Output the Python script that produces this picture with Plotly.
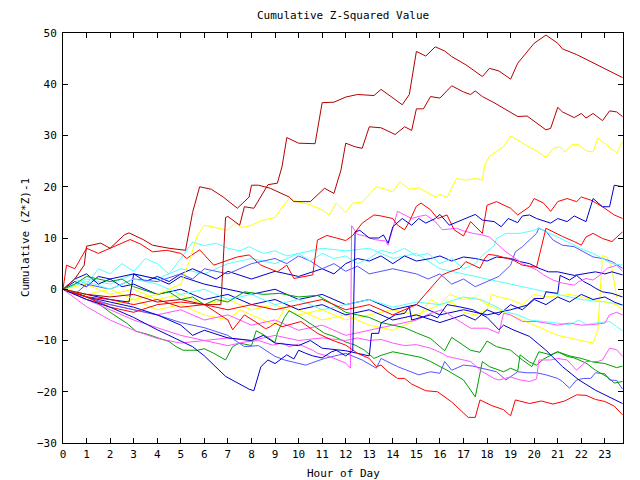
import plotly.graph_objects as go

# ---- data: (hour, cumulative value) ----
h_a = [0,1,2,3,4,5,6,6.7,6.9,7.0,7.5,7.7,8.1,8.7,9.1,9.3,9.5,10,10.7,11,11.5,12,12.5,13.2,13.5,14.4,14.7,15,15.4,15.8,16.2,16.5,17.1,17.8,18.1,18.5,19,19.3,20,20.5,21,21.2,21.8,22.4,23,23.75]
v_a = [0,-1,-1.5,-1,-2.5,-2,-3,-3,14,14.2,12.5,16.1,15.8,20.4,20.7,24,29.6,28.5,28.4,36.4,36.5,37.5,38,37.8,39,36,38,46.4,45.5,47.3,46.5,45.4,43.8,41.5,43.1,42.6,41,44.1,48,49.6,48,46.9,45.8,44.4,43.1,41.3]

h_b = [0,0.5,0.9,1.0,1.6,2,2.6,2.8,3.4,3.8,4.5,5.2,5.5,5.8,6.3,6.8,7.4,7.9,8.0,8.3,8.8,9.6,9.8,10.5,11.1,11.5,11.8,12,12.4,12.7,13,13.5,14.1,14.5,14.8,15,15.3,15.6,16.0,16.5,17,17.3,17.5,17.8,18.3,18.8,19.3,19.7,20.2,20.5,20.7,21,21.2,21.7,22,22.2,22.5,22.9,23.2,23.5,23.75]
v_b = [0,2,4.7,8.4,9,8,10.6,11,9.7,8.6,8,7.6,15,20,19.5,18,15.8,18,20.3,20.3,19.7,18,17.1,17.1,19.7,18.7,23.3,28.5,27.8,27.5,31.7,31.5,30.2,31.7,31,35.2,35.2,37.6,37.3,39.7,38.5,38,38.7,37.6,36.4,35,33.7,33.8,32,31.1,31.4,35.5,34.6,33.5,34.3,33.4,34.3,32.9,34.8,34.6,33.7]

h_c = [0,1,2,3,4,5,5.4,5.7,6,6.5,7,7.3,7.6,8,8.5,9,9.3,9.6,10,10.5,11,11.3,11.6,12,12.3,12.7,13,13.3,13.7,14,14.3,14.7,15.1,15.4,15.8,16,16.3,16.7,17.1,17.5,17.8,17.9,18.1,18.7,19,19.7,20.1,20.5,20.8,21.1,21.3,21.6,21.9,22.2,22.5,22.7,23.1,23.5,23.75]
v_c = [0,-1,0,-2,-1,1,6,10.5,12.5,12,11.5,13,12,12.5,13.5,14,16,17.7,17,16.5,15.5,14.5,16.8,15,16.8,17,18.5,20,19.5,19,21,19.5,19.8,19,18,18.5,17.9,21.6,21.3,21.6,21.3,24.2,26,27.8,29.9,28,27,25.7,27.5,27.8,26.8,28.2,28.2,27,26.8,29.5,28,26.6,28.8]

h_f = [0,0.5,1,2,3,4,5,5.5,6,6.9,7.9,8.1,8.4,8.7,9,9.5,9.8,10,10.3,10.6,11,11.4,11.6,12,12.3,12.4,12.6,13,13.4,13.6,13.8,14,14.4,14.8,15.1,15.4,15.8,16,16.4,16.9,17.5,17.8,18.3,18.6,18.9,19.3,19.5,19.8,20.1,20.7,21,21.4,21.7,22.2,22.5,22.9,23.2,23.4,23.75]
v_f = [0,-1,-2,-3.5,-5.5,-7.9,-10.2,-11.2,-13,-17,-19.5,-19.8,-15.1,-13.8,-14.5,-12.8,-13.6,-11.9,-12.5,-13,-13.4,-12.2,-11.9,-13,-12,11.2,11.5,10,10,10.6,9,12.2,13.8,12.5,13.8,12.9,13.8,14.6,12.5,13.5,14.6,13.5,13.2,12.2,13.8,13,14.3,14.5,13.8,12.9,13.8,13.2,14.3,13.2,17.7,16.1,16.1,20.3,20]

h_d = [0,0.15,0.5,1,1.5,2,2.85,3.3,3.8,4.4,5,5.25,5.8,6.4,6.8,7.4,7.9,8.4,9.1,9.5,9.8,10.3,10.6,10.8,11.2,11.6,12,12.3,12.7,13.2,13.5,14,14.2,14.5,14.7,15,15.2,15.6,15.9,16.3,16.6,17,17.3,17.8,18.0,18.4,19,19.3,19.8,20,20.4,20.7,21,21.4,21.8,22,22.4,22.9,23.4,23.75]
v_d = [0,4.7,4,8,7,8,9.7,8.8,7.3,7.6,7,6,7.7,4.7,5.4,6.3,6.7,4.7,3.4,4.7,2.1,2.5,2.8,9.6,10.5,10,9.5,10.5,12.9,14.5,14.3,13.8,12.5,11.6,13.2,16.2,16.8,15.5,13.8,14.5,11.6,10.4,13.2,10.9,16.4,17.1,15.8,14.5,16.1,17.7,16.8,15.2,17.1,17.7,17.1,18,17.4,16.1,14.5,13.8]

h_e = [0,1,2,3,4,5,6,7,8,9,10,11,12,13,14,15,15.6,16.1,16.4,16.85,17.1,17.4,17.7,17.9,18.05,18.4,19.1,19.5,20.1,20.5,20.8,21.2,21.7,22,22.2,22.5,22.9,23.3,23.75]
v_e = [0,-1.5,-2,-3,-2,-3.5,-3,-4,-3,-4,-3,-2,-4,-3,-5,-3,0.2,2.8,3.4,4.1,5.4,4.7,4.1,6,6.8,6.6,5.7,4.7,4.3,11.9,11.2,10.3,9.3,8.6,10.2,10.9,9.9,9.3,11.2]

h_g = [0,1,2,3,4,5,6,7,7.2,7.7,8.15,8.6,8.8,9,9.3,10.1,10.8,11.4,12,12.5,13,13.3,13.5,13.8,14.2,14.5,14.8,15.1,15.4,15.9,16.5,17.2,17.5,17.7,18.2,18.7,19,19.2,19.8,20.3,20.8,21.3,21.8,22.2,22.6,23,23.4,23.75]
v_g = [0,-1.5,-3.5,-4.5,-3,-2.5,-3,-6,-7.9,-5,-6.3,-7.7,-7.3,-6.6,-7.3,-6.3,-8.6,-9.9,-10.9,-12.5,-13.5,-15.1,-14.8,-16.1,-17.4,-17.4,-18.5,-19.2,-19.8,-20,-22,-25,-25,-21.6,-22.7,-23.5,-24.7,-21.6,-22.3,-21.8,-22.4,-21.8,-20.6,-20.7,-21.5,-21.9,-22.8,-24.5]

h_h = [0,1,2,3,4,5,5.5,6,7,8,8.5,9,10,10.5,11,12,12.5,13,13.1,13.4,13.5,14.1,14.5,14.7,14.8,15.2,15.6,15.9,16.3,16.8,17.4,18,18.5,18.7,19.1,19.8,20.5,21.2,21.9,22.6,23.2,23.75]
v_h = [0,-1.5,-2.5,-3.5,-5,-7,-9,-8,-9.5,-10,-9,-10.5,-11,-10,-11.5,-12,-12.5,-13,-8.6,-8.6,-6.6,-5,-4.7,-3.4,-6,-5.5,-5,-5.6,-3,-3.4,-4,-5.5,-7.9,-7,-7.9,-9.2,-11.9,-15.1,-17.7,-19.7,-21,-22.3]

h_m5 = [0,1,2,3,4,5,6,7,7.7,8.3,8.9,9.3,9.6,10,10.6,10.8,11.3,11.7,12,12.2,12.25,12.5,12.8,13.2,13.7,13.8,13.95,14.1,14.2,14.5,14.8,15.1,15.4,15.8,16.1,16.7,17,17.4,17.8,18.1,18.5,18.8,19.3,19.5,19.8,20.1,20.4,20.8,21.2,21.7,21.9,22.2,22.5,22.8,23.1,23.5,23.75]
v_m5 = [0,-3.4,-6,-8,-9.6,-10.5,-10,-11,-10.3,-10,-10.9,-10.5,-11.2,-10.7,-11.9,-12.5,-13.1,-13.8,-14.4,-15.4,12.4,10.7,10.4,9.7,9.4,8.6,11.2,13.8,15.2,14.5,13.8,14.2,14.5,13.2,11.6,11.9,11.4,10.9,10.6,10.2,8.6,7.3,5.7,5,4.4,3.8,2.8,1.8,1.2,0.8,1.5,2.1,1.8,2.8,4.1,4.7,3.5]

h_m1 = [0,1,2,3,4,5,6,7,8,9,10,11,12,12.5,13,13.5,14,14.5,15,15.6,16.1,16.3,16.7,17.3,17.8,18.3,18.5,19,19.4,19.8,20.1,20.2,20.7,21,21.4,21.8,22.2,22.7,22.9,23.2,23.5,23.75]
v_m1 = [0,-2,-4,-6,-7.5,-9,-10,-9.5,-10,-9,-10,-9.5,-10,-9.5,-10,-9.8,-10.5,-11,-10.8,-11.5,-12.5,-13.1,-13.5,-14.1,-16.1,-17.4,-17.7,-17.1,-17.7,-18,-17.5,-13.8,-13.8,-13.5,-13.8,-15.8,-14.1,-14.1,-13.8,-11.5,-11.8,-13.1]

h_g2 = [0,0.5,1,1.3,2,2.7,3.1,3.6,4.1,4.5,4.8,5.1,5.7,6,6.4,6.9,7.2,7.5,8,8.2,8.6,9,9.1,9.4,9.6,10.1,10.6,11.1,11.5,12,12.4,12.8,13.2,13.5,14,14.4,14.8,15.2,15.6,16.3,17,17.5,17.8,18.1,18.7,19,19.3,19.4,19.8,20.1,20.4,21,21.5,22,22.5,23,23.5,23.75]
v_g2 = [0,-0.5,-1.5,-2.1,-4.5,-6.6,-8.2,-8.8,-9.6,-10.2,-11.2,-11.9,-11.9,-11.6,-12.5,-13.8,-11.2,-10.5,-11,-8.1,-9.1,-10.4,-8.5,-5.5,-4.2,-5.5,-7,-8.6,-9.2,-10.3,-10.9,-11.9,-13.5,-12.9,-12.2,-12.6,-12.9,-13.3,-14.1,-15.8,-17.7,-21,-14.1,-15.1,-16.1,-15.4,-16,-12.8,-14.2,-14.8,-13.6,-12.2,-13,-13.5,-14.2,-14.5,-15.3,-15]

h_g1 = [0,0.5,1,1.5,2,2.5,3,4,4.5,5,5.5,6,6.5,7,7.7,8.5,9.2,10,10.8,11.3,12,12.5,13,13.5,14,14.5,15,15.6,16.2,16.5,17.3,17.7,18,18.4,19,19.5,19.9,20.2,20.7,21,21.4,21.7,22.2,22.6,23.1,23.4,23.75]
v_g1 = [0,1,2.5,2,1.5,2,0.5,-1,-0.5,-2,-1.5,-3,-2,-2.5,-0.5,-1,-0.8,-1.5,-1.2,-2.5,-4.5,-5,-5.5,-6.5,-7,-7.5,-8.5,-9.6,-12,-9.4,-11.9,-12.3,-10.1,-11.2,-11.9,-13.8,-15.1,-12.2,-12.8,-12.2,-13.1,-13.4,-14.4,-15.8,-17.1,-18.3,-18]

h_lb2 = [0,1,2,3,4,5,6,7,7.7,8.3,9,9.4,10.3,11.1,11.7,12,12.7,13.3,13.5,14.2,15.1,15.6,16,16.2,16.5,17,17.4,17.8,18.4,18.8,19.3,19.7,20.1,20.5,21,21.2,21.5,21.8,22.1,22.4,22.6,23,23.2,23.5,23.75]
v_lb2 = [0,-1.5,-3,-4,-5,-6.5,-7.5,-9,-11.2,-11,-13.1,-13.8,-14.8,-13.5,-12.8,-12.5,-13.8,-15.4,-13.5,-15.1,-16.7,-16.1,-16.4,-14.1,-15.8,-14.8,-15,-15.4,-16.1,-17.7,-16.1,-16.3,-16.3,-16.7,-17.4,-18,-19.3,-17.7,-17.4,-17.4,-16.3,-16.5,-17.7,-17.8,-19.5]

h_c2 = [0,1,2,3,4,5,6,7,8,9,10,11,12,13,14,15,16,17,17.8,18.4,18.8,19.3,19.8,20.4,21,21.5,21.9,22.2,22.6,23.2,23.5,23.75]
v_c2 = [0,1.5,0,2,1,-1,0,-2,-1,-3,-2,-4,-3,-2,-3.5,-2.5,-3,-1.5,-2.1,-3.4,-4.4,-5,-6,-6.3,-6.6,-6.9,-6,-6.9,-6.6,-6.3,-7.3,-8.1]

h_c1 = [0,0.5,1,1.5,2,2.5,3,3.5,4,4.5,5,5.5,6,6.5,7,7.5,7.9,8.5,9,9.5,10,10.5,11,11.5,12,12.5,13,13.5,14,14.5,15,15.5,16,16.5,17,17.5,17.8,18.3,18.4,18.8,19.4,20,20.2,20.5,21,21.5,22.1,22.5,22.9,23.3,23.75]
v_c1 = [0,2,1,4,3,5,3.5,6,5,3,6,9.2,8.5,9,8,7.5,8.3,7,7.5,6.5,7,5.5,7,6,6.5,5,6,7.6,7,8,6.5,7,5,6,4,5,6.6,8.5,9.9,10.9,10.9,11.5,12,11.2,10.2,9,7.7,7,6,5,4.7]

h_lb1 = [0,0.5,1,2,3,4,5,5.5,6,7,8,9,9.5,10,10.5,11,11.5,12,12.5,13,14,15,15.5,16,16.5,17,17.5,18,18.5,19,19.2,19.5,19.8,20.1,20.2,20.5,20.8,21.2,21.7,22.1,22.5,22.9,23.3,23.75]
v_lb1 = [0,-1,1,0,2,1.5,3,2,4,3,5,6,5,6.5,5.5,4,5,3.5,4.5,3,4,3,2,3,1,2,0.5,1.5,2.5,4.7,7.3,8.3,9.6,10.9,11.9,11.3,9.6,8.6,8.3,7.3,6.3,6,5.4,4.1]

h_b2 = [0,0.5,1,1.5,2,3,3.5,4,4.5,5,5.5,6,6.5,7,8,9,10,11,11.5,12,12.5,13,13.5,14,14.5,15,15.6,16,16.5,17,17.5,18,18.4,19,19.4,19.8,20.2,20.6,21,21.7,22.1,22.6,23,23.3,23.75]
v_b2 = [0,1.5,0.5,2.5,2,3,1.5,2.5,1.5,3,4,3,2,3.5,2,3.5,2.5,4,3,5,6,5.5,6.5,5,6.5,5.5,6,6.5,5.5,6.3,6,5.5,6.3,6,5.4,5,4.1,3.4,3.4,2.7,3,3.4,3,3.4,2.8]

h_b4 = [0,1,2,2.8,3,4,4.5,5,6,7,8,9,10,11,12,13,14,15,16,17,18,19,19.7,20,20.4,20.5,21,21.1,21.5,21.8,22.1,22.4,22.6,22.9,23.3,23.75]
v_b4 = [0,-1,-2,-2.5,3,2,1,2.5,1,0,-1,0,-2,-1,-3,-2,-4,-3,-5,-4,-5,-4,-3.1,-1.8,-1.8,-0.5,-0.8,2.7,1.8,2.7,1.5,0.8,0.2,-0.5,-0.8,-1.5]

h_b3 = [0,0.5,1,1.5,2,2.5,3,4,5,6,7,8,9,10,11,12,13,14,15,16,17,17.5,18,18.5,19,19.5,20,20.5,21,21.5,22,22.5,23,23.4,23.75]
v_b3 = [0,2,3,1,2,0.5,1,-1,0,-2,-1,-3,-2,-4,-3,-5,-4,-6,-5,-6.5,-5,-6,-4,-5,-3,-4,-2,-3,-1.5,-2.5,-1,-2,-1.5,-2.5,-3.1]

h_y2 = [0,0.5,1,2,3,4,5,6,7,7.5,8,9,9.5,10,11,12,13,14,15,15.6,16,16.5,17,17.5,18,18.2,18.5,19,19.5,20,20.5,21,21.5,22,22.5,23,23.5,23.75]
v_y2 = [0,-1,-2,-3,-2,-4,-3,-5,-6,-4,-5,-7,-3,-4,-6,-5,-7,-8,-6,-2,-3,-2.5,-4.5,-5,-4,-1,-1.5,-2,-3,-1,-1.5,-1.3,-1,-1.5,-2,-2.5,-3,-4]

h_y3 = [0,1,2,3,4,5,6,7,8,9,10,11,12,13,14,15,16,16.4,17,17.5,18,18.5,19,19.5,20,20.5,21,21.5,22,22.5,22.7,22.9,23.1,23.3,23.5,23.75]
v_y3 = [0,1,-1,0,-2,-1,-3,-2,-4,-3,-5,-4,-6,-5,-4,-5,-3,-1,-2,-1.5,-3,-4,-5,-6,-7,-8,-9,-9.5,-10,-10.5,-8,6.6,6.2,4,-1.5,-0.5]

h_m2 = [0,1,2,3,4,5,6,7,8,9,10,11,12,13,14,15,15.6,16.1,16.4,17.3,18,18.5,18.7,19,19.5,20.1,20.5,21,21.5,22,22.5,23,23.2,23.5,23.75]
v_m2 = [0,-2,-3,-4,-5,-4,-6,-5,-7,-6,-8,-7,-9,-8,-7,-6,-4.7,-4,-5,-7.6,-7.6,-8.6,-4.7,-5,-6.3,-6.3,-6.6,-7,-6.6,-7,-6.9,-6.6,-5,-4.5,-5]

h_c3 = [0,1,2,3,4,5,6,7,8,9,10,11,12,13,14,15,16,17,18,19,20,21,22,23,23.75]
v_c3 = [0,2,1,3,2,4,3,5,6,5,7,8,7.5,8,6,7,4,3,2,1,0,-1,-2,-2.5,-3]

hour_ticks = list(range(24))
value_ticks = list(range(-30, 51, 10))

DARKRED = "#b40000"
RED = "#ff0000"
YELLOW = "#ffff00"
CYAN = "#55ffff"
BLUE = "#0000cc"
LBLUE = "#5555ff"
MAGENTA = "#ff55ff"
GREEN = "#00a000"

series = [
    (h_c3, v_c3, CYAN), (h_y3, v_y3, YELLOW), (h_y2, v_y2, YELLOW),
    (h_b3, v_b3, BLUE), (h_b4, v_b4, BLUE), (h_b2, v_b2, BLUE),
    (h_lb1, v_lb1, LBLUE), (h_c1, v_c1, CYAN), (h_c2, v_c2, CYAN),
    (h_m2, v_m2, MAGENTA), (h_lb2, v_lb2, LBLUE), (h_g1, v_g1, GREEN),
    (h_g2, v_g2, GREEN), (h_m1, v_m1, MAGENTA), (h_m5, v_m5, MAGENTA),
    (h_h, v_h, BLUE), (h_g, v_g, RED), (h_e, v_e, RED), (h_d, v_d, RED),
    (h_f, v_f, BLUE), (h_c, v_c, YELLOW), (h_b, v_b, DARKRED), (h_a, v_a, DARKRED),
]

fig = go.Figure()
for hx, vy, col in series:
    fig.add_trace(go.Scatter(x=hx, y=vy, mode="lines",
                             line=dict(color=col, width=1), showlegend=False,
                             hoverinfo="skip"))

FONT = dict(family="DejaVu Sans Mono", size=11, color="black")
axis_common = dict(showline=True, linecolor="black", linewidth=1, mirror="ticks",
                   ticks="inside", ticklen=5, tickcolor="black", showgrid=False,
                   zeroline=False, tickfont=FONT)
fig.update_xaxes(range=[0, 23.77], tickvals=hour_ticks, ticklabelstandoff=1, **axis_common)
fig.update_yaxes(range=[-30, 50], tickvals=value_ticks, ticklabelstandoff=3, **axis_common)

fig.update_layout(
    width=640, height=480, margin=dict(l=63, r=17, t=33, b=37),
    paper_bgcolor="white", plot_bgcolor="white", font=FONT,
    annotations=[
        dict(text="Cumulative Z-Squared Value", xref="paper", yref="paper", x=0.5, y=(443-16)/410,
             xanchor="center", yanchor="middle", showarrow=False, font=FONT),
        dict(text="Hour of Day", xref="paper", yref="paper", x=0.5, y=-(473-443)/410,
             xanchor="center", yanchor="middle", showarrow=False, font=FONT),
        dict(text="Cumulative (Z*Z)-1", xref="paper", yref="paper", x=-(63-25)/560, y=0.5,
             xanchor="center", yanchor="middle", textangle=-90, showarrow=False, font=FONT),
    ],
)
fig.write_html("out.html")
